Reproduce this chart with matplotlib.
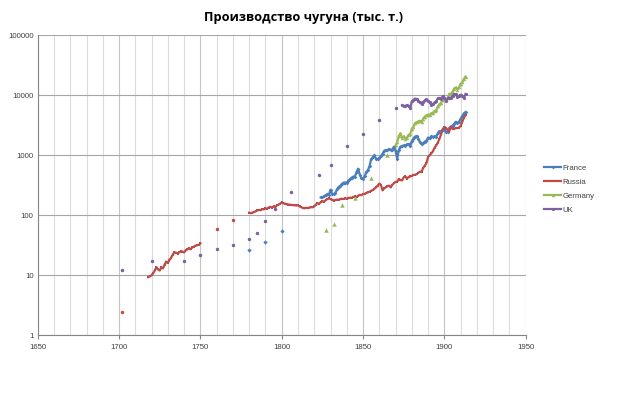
import numpy as np
import matplotlib
matplotlib.use("Agg")
import matplotlib.pyplot as plt
from matplotlib.ticker import FixedLocator, NullFormatter

# chart data (thousand tonnes)
title = "Производство чугуна (тыс. т.)"

france_pts_years = [1780, 1790, 1800]
france_pts_vals = [26, 36, 55]
france_start = 1824
france_vals = [198, 199, 205, 215, 221, 217, 266, 224, 225, 235,
               269, 295, 308, 332, 348, 350, 348, 377, 399, 422,
               439, 438, 522, 592, 475, 414, 406, 446, 523, 561,
               661, 850, 923, 992, 872, 864, 898, 967, 1052, 1179,
               1213, 1204, 1260, 1229, 1235, 1381, 1178, 860, 1218, 1382,
               1416, 1448, 1435, 1507, 1521, 1400, 1725, 1886, 2039, 2069,
               1872, 1631, 1516, 1568, 1683, 1734, 1962, 1897, 2057, 2003,
               2070, 2004, 2340, 2484, 2525, 2578, 2714, 2389, 2405, 2841,
               2974, 3077, 3314, 3590, 3401, 3574, 4038, 4470, 4939, 5207]

russia_pts_years = [1702, 1760, 1770]
russia_pts_vals = [2.4, 60, 84.5]
russia_start1 = 1718
russia_vals1 = [9.3, 9.6, 10.0, 10.8, 12.0, 13.6, 12.5, 12.0, 13.5, 13.0,
                15.0, 16.9, 16.0, 18.0, 19.5, 22.0, 24.0, 23.8, 23.0, 24.0,
                25.0, 24.7, 24.0, 26.0, 27.0, 28.0, 27.0, 29.0, 30.0, 31.0,
                31.5, 32.0, 34.0]
russia_start2 = 1780
russia_vals2 = [110, 108, 110, 113, 116, 120, 122, 121, 126, 125,
                130, 128, 134, 138, 133, 140, 135, 145, 150, 155,
                163, 158, 156, 152, 150, 150, 148, 147, 146, 145,
                146, 140, 136, 132, 130, 133, 131, 134, 136, 135,
                140, 150, 158, 155, 165, 170, 168, 178, 185, 190,
                186, 180, 175, 178, 182, 180, 185, 188, 186, 190,
                188, 192, 196, 195, 200, 205, 202, 210, 218, 215,
                226, 225, 235, 240, 245, 255, 262, 275, 290, 310,
                336, 320, 259, 279, 292, 304, 311, 290, 322, 339,
                359, 362, 400, 384, 379, 428, 441, 405, 433, 442,
                449, 469, 471, 481, 511, 528, 532, 612, 668, 741,
                928, 1005, 1072, 1160, 1333, 1455, 1620, 1868, 2229, 2712,
                2937, 2841, 2610, 2483, 2978, 2733, 2716, 2841, 2801, 2872,
                3047, 3594, 4198, 4635]

germany_pts_years = [1827, 1832, 1837, 1845, 1855, 1865]
germany_pts_vals = [57, 72, 150, 195, 414, 1020]
germany_start = 1870
germany_vals = [1450, 1650, 2100, 2300, 1950, 2050, 1880, 1960, 2180, 2260,
                2760, 2950, 3420, 3510, 3640, 3730, 3570, 4060, 4380, 4590,
                4720, 4700, 5000, 5050, 5450, 5550, 6500, 7000, 7450, 8300,
                8900, 8200, 8900, 10500, 10500, 11300, 12800, 13400, 12300, 13400,
                15400, 16200, 18600, 20300]

uk_pts_years = [1702, 1720, 1740, 1750, 1760, 1770, 1780, 1785, 1790, 1796,
                1806, 1823, 1830, 1840, 1850, 1860, 1870]
uk_pts_vals = [12, 17, 17.3, 22, 27, 32, 40, 50, 80, 127,
               247, 460, 690, 1430, 2265, 3870, 5980]
uk_start = 1874
uk_vals = [6800, 6470, 6660, 6720, 6480, 6090, 7870, 8280, 8720, 8630,
           7940, 7530, 7120, 7680, 8130, 8460, 8030, 7520, 6820, 7090,
           7550, 7830, 8800, 8940, 8750, 9570, 9100, 8060, 8820, 9080,
           8830, 9760, 10350, 10280, 9200, 9690, 10170, 9680, 8890, 10420]

x_ticks = [1650, 1700, 1750, 1800, 1850, 1900, 1950]
y_ticks = [1, 10, 100, 1000, 10000, 100000]

colors = {"France": "#4A7EBB", "Russia": "#BE4B48",
          "Germany": "#98B954", "UK": "#7D60A0"}

plt.rcParams['font.family'] = ['Liberation Sans', 'DejaVu Sans']

fig = plt.figure(figsize=(6.38, 3.99), dpi=100)
ax = fig.add_axes([37.7 / 638, 1 - 335.3 / 399, 488 / 638, 300.3 / 399])


def seg(start, vals):
    return np.arange(start, start + len(vals)), vals


lw = 1.6
ms = 1.9
pms = 2.5

#france
fx, fy = seg(france_start, france_vals)
ax.plot(france_pts_years, france_pts_vals, ls="none", marker="D", ms=pms - 0.3, mew=0, color=colors["France"])
ax.plot(fx, fy, lw=lw, marker="D", ms=ms, mew=0, color=colors["France"], label="France")

#russia
r1x, r1y = seg(russia_start1, russia_vals1)
r2x, r2y = seg(russia_start2, russia_vals2)
ax.plot(russia_pts_years, russia_pts_vals, ls="none", marker="o", ms=pms, mew=0, color=colors["Russia"])
ax.plot(r1x, r1y, lw=lw, marker="s", ms=ms, mew=0, color=colors["Russia"])
ax.plot(r2x, r2y, lw=lw, marker="s", ms=ms, mew=0, color=colors["Russia"], label="Russia")

#germany
gx, gy = seg(germany_start, germany_vals)
ax.plot(germany_pts_years, germany_pts_vals, ls="none", marker="^", ms=pms + 0.7, mew=0, color=colors["Germany"])
ax.plot(gx, gy, lw=lw, marker="^", ms=ms + 0.6, mew=0, color=colors["Germany"], label="Germany")

#uk
ux, uy = seg(uk_start, uk_vals)
ax.plot(uk_pts_years, uk_pts_vals, ls="none", marker="o", ms=pms, mew=0, color=colors["UK"])
ax.plot(ux, uy, lw=lw, marker="o", ms=ms + 0.4, mew=0, color=colors["UK"], label="UK")

#axes and grid
ax.set_yscale("log")
ax.set_xlim(1650, 1950)
ax.set_ylim(1, 100000)
ax.set_xticks(x_ticks)
ax.set_xticklabels([str(t) for t in x_ticks])
ax.yaxis.set_major_locator(FixedLocator(y_ticks))
ax.set_yticklabels([str(t) for t in y_ticks])
ax.yaxis.set_minor_formatter(NullFormatter())
ax.yaxis.set_minor_locator(FixedLocator([]))
ax.xaxis.set_minor_locator(FixedLocator(list(range(1650, 1951, 10))))
ax.grid(True, which="minor", axis="x", color="#DCDCDC", lw=0.8)
ax.grid(True, which="major", axis="x", color="#C4C4C4", lw=0.8)
ax.grid(True, which="major", axis="y", color="#A6A6A6", lw=0.8)
ax.set_axisbelow(True)
for s in ["top", "right"]:
    ax.spines[s].set_visible(False)
for s in ["left", "bottom"]:
    ax.spines[s].set_color("#868686")
    ax.spines[s].set_linewidth(0.8)
ax.tick_params(axis="both", which="both", length=0, labelsize=5.6, colors="#404040", pad=3)
ax.tick_params(axis="x", which="major", length=3, color="#868686", direction="out")

fig.text(303 / 638, 1 - 17 / 399, title, ha="center", va="center",
         fontsize=9.2, fontweight="bold", family=["Open Sans", "DejaVu Sans"], color="#000000")

fig.legend(loc="center left", bbox_to_anchor=(544 / 638, 1 - 189 / 399), frameon=False,
           fontsize=5.6, handlelength=2.2, handletextpad=0.2, labelspacing=0.85,
           borderpad=0, borderaxespad=0, labelcolor="#404040")

fig.savefig("out.png", dpi=100)
